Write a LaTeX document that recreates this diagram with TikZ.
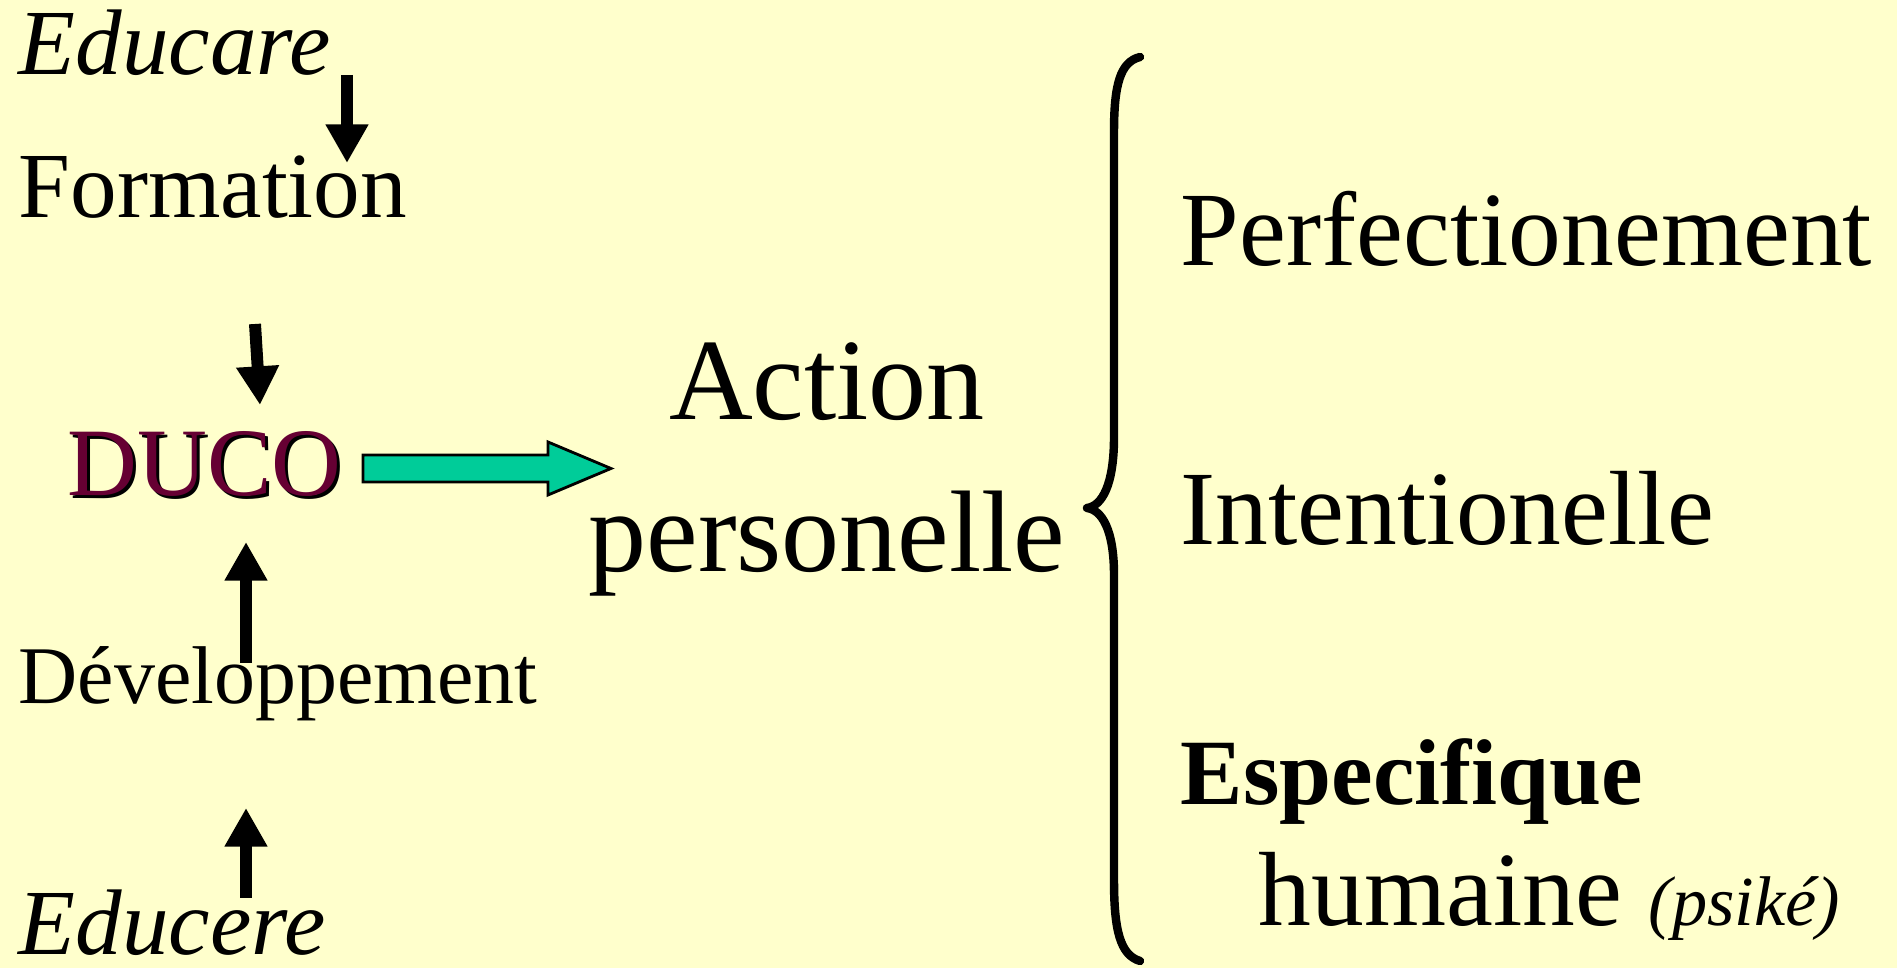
\documentclass[tikz,border=0pt]{standalone}
\usepackage{fontspec}
\setmainfont{Liberation Serif}
\usetikzlibrary{arrows.meta}
\definecolor{bgyellow}{HTML}{FFFFCC}
\definecolor{ducored}{HTML}{660033}
\definecolor{flowgreen}{HTML}{00CC99}
\tikzstyle{txt}=[inner sep=0pt, anchor=base west]
\tikzstyle{blackarrow}=[line width=3.4pt, -{Triangle[length=11pt, width=11.5pt]}]
\newcommand{\fs}[1]{\fontsize{#1}{1.2\dimexpr#1pt\relax}\selectfont}

\begin{document}
\begin{tikzpicture}[x=0.01cm, y=-0.01cm]
    \fill[bgyellow] (0,0) rectangle (1897,968);

    \node[txt, font=\fs{26.5}\itshape] (educare) at (18,75) {Educare};
    \node[txt, font=\fs{26.5}] (formation) at (18,218) {Formation};
    \node[txt, font=\fs{27.5}, text=black] (ducoshadow) at (70,499) {DUCO};
    \node[txt, font=\fs{27.5}, text=ducored] (duco) at (67,496) {DUCO};
    \node[txt, font=\fs{23.3}] (devel) at (18,704) {Développement};
    \node[txt, font=\fs{26.5}\itshape] (educere) at (18,955) {Educere};

    \node[inner sep=0pt, anchor=base, font=\fs{33}] (action) at (827,420) {Action};
    \node[inner sep=0pt, anchor=base, font=\fs{33}] (personelle) at (827,572) {personelle};

    \node[txt, font=\fs{30}] (perf) at (1180,266) {Perfectionement};
    \node[txt, font=\fs{30}] (intent) at (1180,545) {Intentionelle};
    \node[txt, font=\fs{26.6}\bfseries] (espec) at (1180,805) {Especifique};
    \node[txt, font=\fs{30}] (humaine) at (1258,926) {humaine};
    \node[txt, font=\fs{20}\itshape] (psike) at (1648,926) {(psiké)};

    \coordinate (a1s) at (347,75);  \coordinate (a1e) at (347,163);
    \coordinate (a2s) at (255,324); \coordinate (a2e) at (260,405);
    \coordinate (a3s) at (246,663); \coordinate (a3e) at (246,542);
    \coordinate (a4s) at (246,898); \coordinate (a4e) at (246,808);
    \draw[blackarrow] (a1s) -- (a1e);
    \draw[blackarrow] (a2s) -- (a2e);
    \draw[blackarrow] (a3s) -- (a3e);
    \draw[blackarrow] (a4s) -- (a4e);

    \draw[fill=flowgreen, line width=0.8pt] (363,455) -- (548,455) -- (548,442) -- (611,468.5)
        -- (548,495) -- (548,482) -- (363,482) -- cycle;

    \draw[line width=2.4pt, line join=round, line cap=round] (1140,57) .. controls (1120,62) and (1114,85) .. (1114,132)
        -- (1114,437) .. controls (1114,485) and (1102,506) .. (1087,508)
        .. controls (1102,510) and (1114,530) .. (1114,575)
        -- (1114,880) .. controls (1114,930) and (1120,955) .. (1140,961);

  \end{tikzpicture}
\end{document}
